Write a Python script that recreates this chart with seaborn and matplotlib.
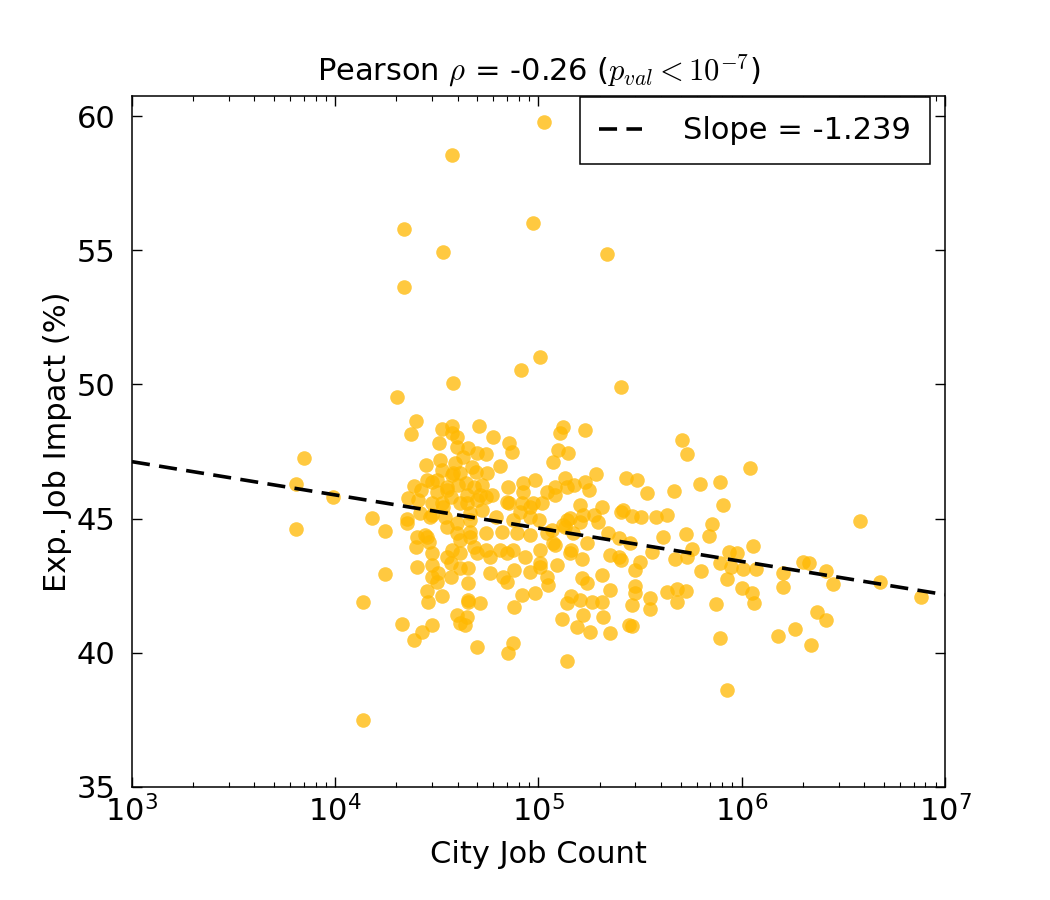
import matplotlib
matplotlib.use("Agg")
import matplotlib.pyplot as plt
import numpy as np
import pandas as pd
import seaborn as sns

# city job counts and expected job impact (%)
job_count = [
    1.06e5, 3.77e4, 0.94e5, 2.19e4, 3.4e4, 2.17e5, 2.17e4, 1.02e5, 3.8e4, 0.82e5,
    2.55e5, 2.02e4, 1.37e4, 8.5e5, 3.8e6, 4.8e6, 7.6e6,
    2.5e4, 2.36e4, 7.0e3, 6.4e3, 9.75e3, 6.4e3, 1.52e4, 1.76e4, 2.29e4, 2.45e4,
    2.26e4, 2.26e4, 2.83e4, 2.53e4, 2.8e4, 3.25e4, 3.35e4, 3.76e4, 3.76e4, 3.28e4,
    3.98e4, 2.83e4, 3.17e4, 3.55e4, 3.8e4, 3.38e4, 2.92e4,
    2.75e4, 2.5e4, 2.9e4, 3.0e4, 1.76e4, 2.53e4, 2.98e4, 2.98e4, 3.15e4, 3.7e4,
    3.55e4, 2.83e4, 2.86e4, 3.35e4, 1.37e4, 3.98e4, 2.13e4, 2.98e4, 2.66e4, 2.45e4,
    4.1e4,
    5.1e4, 6.0e4, 7.2e4, 7.4e4, 3.98e4, 4.5e4, 5.0e4, 5.5e4, 4.25e4, 6.5e4,
    3.9e4, 4.9e4, 5.55e4, 1.32e5, 1.28e5, 1.69e5, 1.25e5, 1.4e5, 1.18e5, 1.92e5,
    2.7e5, 1.35e5, 0.96e5, 0.84e5, 0.71e5, 1.1e5, 1.2e5, 1.5e5, 1.7e5, 1.77e5,
    5.25e4, 5.9e4, 5.15e4, 4.45e4, 0.84e5, 0.72e5, 1.6e5, 2.05e5, 1.87e5, 2.55e5,
    0.91e5, 1.04e5, 1.01e5, 1.38e5, 0.81e5, 6.2e4, 5.3e4, 4.6e4, 4.1e4, 2.2e5,
    2.5e5,
    3.98e4, 4.6e4, 5.5e4, 6.6e4, 0.78e5, 0.91e5, 1.1e5, 1.35e5, 1.6e5, 1.97e5,
    1.73e5, 1.45e5, 1.2e5, 1.02e5, 0.86e5, 0.7e5, 5.8e4, 5.0e4, 4.1e4, 2.25e5,
    2.55e5, 1.63e5, 1.23e5, 1.02e5, 0.76e5, 0.91e5, 5.8e4, 4.5e4, 0.7e5, 1.12e5,
    1.63e5, 1.73e5, 2.05e5, 2.25e5, 0.83e5, 0.96e5, 4.5e4, 5.15e4, 1.45e5, 1.38e5,
    1.83e5, 2.05e5, 0.76e5, 4.45e4, 4.35e4, 1.3e5, 1.66e5, 1.55e5, 1.8e5, 2.07e5,
    2.25e5, 2.8e5, 5.0e4, 0.75e5, 0.71e5, 1.38e5,
    5.1e5, 5.4e5, 1.1e6, 3.05e5, 3.4e5, 4.65e5, 6.2e5, 7.8e5, 8.1e5, 2.6e5,
    2.88e5, 3.2e5, 3.8e5, 4.3e5, 7.1e5, 4.1e5, 5.3e5, 6.9e5,
    2.83e5, 2.5e5, 3.0e5, 3.15e5, 3.6e5, 4.7e5, 5.4e5, 5.7e5, 6.3e5, 7.8e5,
    8.7e5, 9.5e5, 8.9e5, 1.02e6, 1.14e6, 1.17e6, 8.5e5, 1.0e6, 1.12e6, 1.15e6,
    7.5e5, 7.8e5, 1.6e6, 1.6e6, 2.0e6, 2.15e6, 2.35e6, 1.82e6, 1.5e6, 2.2e6,
    2.9e5, 2.9e5, 3.0e5, 3.0e5, 3.55e5, 3.55e5, 4.3e5, 4.8e5, 4.8e5, 5.3e5,
    2.6e6, 2.8e6, 2.6e6,
    4.7e4, 3.35e4, 3.76e4, 4.1e4, 2.65e4, 3.0e4, 3.55e4, 4.0e4, 4.4e4, 3.15e4,
    3.7e4, 4.8e4, 2.55e4, 3.0e4, 3.35e4, 4.45e4, 5.0e4,
    2.6e4, 2.98e4, 3.45e4, 3.55e4, 3.98e4, 4.6e4, 4.1e4, 4.6e4, 3.76e4, 4.8e4,
    3.7e4, 4.1e4, 4.5e4, 3.2e4, 4.5e4,
    1.38e5, 5.5e4, 0.7e5, 0.83e5, 0.94e5, 1.2e5,
    0.75e5, 0.91e5, 1.43e5, 1.66e5, 1.17e5, 1.32e5, 1.48e5, 5.5e4, 6.5e4, 0.75e5,
    1.18e5, 1.43e5, 6.7e4, 1.02e5, 1.1e5, 1.6e5,
]

job_impact = [
    59.8, 58.55, 56.0, 55.8, 54.93, 54.86, 53.63, 51.02, 50.05, 50.54,
    49.9, 49.53, 37.5, 38.61, 44.9, 42.64, 42.08,
    48.64, 48.15, 47.26, 46.29, 45.8, 44.61, 45.02, 44.54, 45.77, 46.21,
    44.84, 45.0, 44.31, 44.31, 47.0, 47.82, 48.34, 48.45, 48.19, 47.18,
    47.67, 46.44, 46.44, 46.07, 46.7, 45.43, 45.06,
    44.39, 43.94, 44.13, 43.72, 42.94, 43.2, 43.27, 42.82, 42.64, 42.82,
    43.57, 42.3, 41.89, 42.12, 41.89, 41.41, 41.07, 41.04, 40.77, 40.48,
    41.11,
    48.45, 48.04, 47.82, 47.48, 48.04, 47.63, 47.44, 47.41, 47.3, 46.96,
    47.07, 46.74, 46.7, 48.41, 48.19, 48.3, 47.56, 47.44, 47.11, 46.66,
    46.51, 46.51, 46.44, 46.33, 46.18, 46.0, 46.18, 46.25, 46.36, 46.07,
    46.25, 45.88, 45.88, 45.88, 46.0, 45.58, 45.51, 45.43, 45.13, 45.25,
    45.43, 45.58, 44.95, 44.95, 45.25, 45.06, 45.32, 45.21, 45.58, 44.46,
    44.28,
    44.46, 44.5, 44.46, 44.5, 44.46, 44.39, 44.46, 44.69, 44.87, 44.87,
    44.09, 43.83, 44.02, 43.83, 43.57, 43.72, 43.57, 43.72, 43.72, 43.64,
    43.46, 43.49, 43.27, 43.35, 43.08, 43.01, 42.97, 42.6, 42.64, 42.53,
    42.79, 42.6, 42.9, 42.34, 42.15, 42.23, 41.89, 41.86, 42.12, 41.86,
    41.89, 41.89, 41.71, 41.33, 41.04, 41.26, 41.41, 40.96, 40.77, 41.33,
    40.74, 41.04, 40.22, 40.37, 39.99, 39.69,
    47.93, 47.41, 46.89, 46.44, 45.95, 46.03, 46.29, 46.36, 45.51, 45.32,
    45.1, 45.06, 45.06, 45.13, 44.8, 44.31, 44.43, 44.35,
    44.09, 43.57, 43.08, 43.38, 43.76, 43.49, 43.57, 43.87, 43.05, 43.35,
    43.76, 43.72, 43.2, 43.12, 43.98, 43.12, 42.75, 42.41, 42.23, 41.86,
    41.82, 40.55, 42.97, 42.45, 43.4, 43.35, 41.52, 40.89, 40.63, 40.29,
    41.0, 41.78, 42.23, 42.5, 42.04, 41.63, 42.27, 41.89, 42.38, 42.3,
    43.05, 42.56, 41.22,
    46.92, 46.81, 46.62, 46.7, 46.07, 46.36, 46.18, 46.25, 46.33, 46.0,
    45.8, 46.18, 45.69, 45.58, 45.58, 45.58, 45.69,
    45.21, 45.13, 45.06, 44.69, 44.84, 44.95, 44.2, 44.31, 43.83, 43.94,
    43.35, 43.16, 43.16, 42.97, 41.97,
    46.18, 45.8, 45.62, 45.58, 45.58, 45.88,
    44.95, 45.06, 45.02, 45.13, 44.58, 44.76, 44.46, 43.83, 43.83, 43.83,
    44.09, 43.72, 42.82, 43.2, 42.82, 41.97,
]

# fitted line: impact = intercept + slope * log10(jobs)
slope = -1.239
intercept = 50.84
x_range = [1e3, 1e7]

df = pd.DataFrame({"jobs": job_count, "impact": job_impact})
fit = pd.DataFrame({"jobs": x_range})
fit["impact"] = intercept + slope * np.log10(fit["jobs"])

sns.set_style("ticks", {
    "xtick.direction": "in", "ytick.direction": "in",
    "xtick.top": True, "ytick.right": True,
    "axes.edgecolor": "black", "text.color": "black",
    "axes.labelcolor": "black", "xtick.color": "black", "ytick.color": "black",
})
plt.rcParams["font.family"] = ["DejaVu Sans"]

fig = plt.figure(figsize=(10.5, 9), dpi=100)
ax = fig.add_axes([0.1257, 0.1256, 0.7743, 0.7677])
ax.set_xscale("log")

sns.scatterplot(data=df, x="jobs", y="impact", ax=ax, color="#FFB800",
                alpha=0.75, s=110, linewidth=0, zorder=2)
sns.lineplot(data=fit, x="jobs", y="impact", ax=ax, color="black", lw=2.6,
             label="Slope = %.3f" % slope, zorder=3)
ax.lines[-1].set_dashes((5, 2.6))

ax.set_xlim(1e3, 1e7)
ax.set_ylim(35, 60.75)
ax.set_yticks([35, 40, 45, 50, 55, 60])

for s in ax.spines.values():
    s.set_linewidth(1.1)
ax.tick_params(which="major", length=7, width=1.0, labelsize=22)
ax.tick_params(which="minor", length=3.5, width=0.8)
ax.tick_params(axis="y", which="minor", left=False, right=False)
ax.tick_params(axis="y", pad=12)
ax.tick_params(axis="x", pad=6)

ax.set_xlabel("City Job Count", fontsize=22, labelpad=9)
ax.set_ylabel("Exp. Job Impact (%)", fontsize=22, labelpad=3)
ax.set_title(r"Pearson $\rho$ = -0.26 ($p_{val} < 10^{-7}$)", fontsize=22,
             math_fontfamily="cm", pad=11)

leg = ax.legend(loc="upper right", bbox_to_anchor=(0.9815, 0.998),
                borderaxespad=0, fontsize=22, fancybox=False, framealpha=1,
                edgecolor="black", handlelength=1.4, handletextpad=1.35,
                borderpad=0.62)
leg.get_frame().set_linewidth(1.1)

fig.savefig("out.png", dpi=100)
